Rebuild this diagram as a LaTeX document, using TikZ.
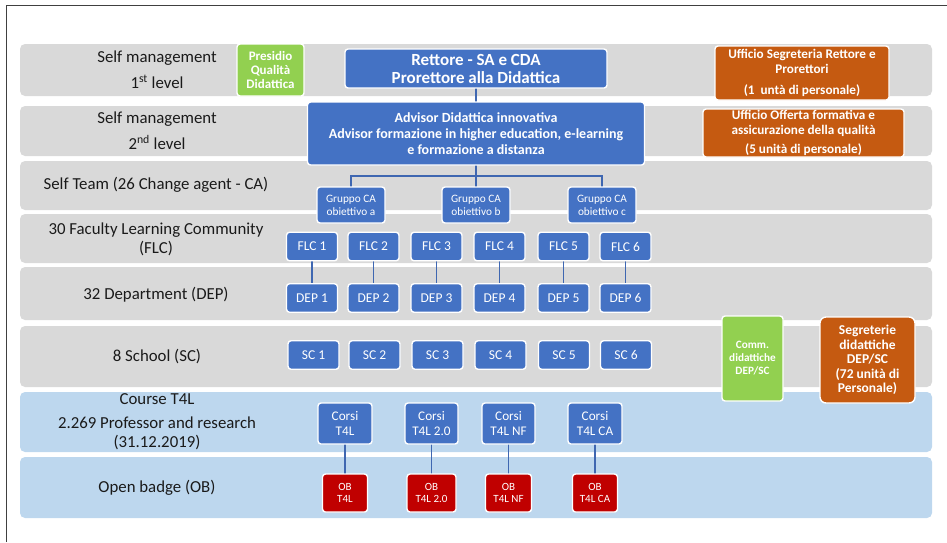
\documentclass[tikz,border=0pt]{standalone}
\usepackage{fontspec}
\setmainfont{Carlito}
\definecolor{bandgray}{HTML}{D9D9D9}
\definecolor{bandblue}{HTML}{BDD7EE}
\definecolor{boxblue}{HTML}{4472C4}
\definecolor{boxorange}{HTML}{C55A11}
\definecolor{boxgreen}{HTML}{92D050}
\definecolor{boxred}{HTML}{C00000}
\definecolor{linkblue}{HTML}{3F67B1}
\definecolor{labeltext}{HTML}{1A1A1A}
\definecolor{framegray}{HTML}{404040}
\pgfdeclarelayer{bandlayer}
\pgfdeclarelayer{linklayer}
\pgfsetlayers{bandlayer,linklayer,main}
\begin{document}
\begin{tikzpicture}[x=1pt,y=-1pt,
  band/.style={fill=#1, rounded corners=5pt, draw=none, anchor=north west,
    minimum width=912pt, inner sep=0pt, outer sep=0pt},
  lbl/.style={align=center, text=labeltext, font=\fontsize{16.8}{20}\selectfont, inner sep=0pt},
  box/.style={fill=#1, draw=white, line width=1.4pt, rounded corners=3pt, text=white,
    align=center, inner sep=0pt, outer sep=0pt},
  rettbox/.style={box=boxblue, font=\bfseries\fontsize{17}{18}\selectfont},
  advbox/.style={box=boxblue, font=\bfseries\fontsize{14}{16}\selectfont},
  grpbox/.style={box=boxblue, minimum width=68pt, minimum height=36pt, font=\fontsize{11.3}{13}\selectfont},
  unitbox/.style={box=boxblue, minimum width=51pt, minimum height=28.5pt, font=\fontsize{13.5}{15}\selectfont},
  corsibox/.style={box=boxblue, minimum height=41pt, font=\fontsize{13.2}{15}\selectfont},
  obbox/.style={box=boxred, minimum height=38pt, font=\fontsize{11}{12}\selectfont},
  greenbox/.style={box=boxgreen, font=\bfseries\fontsize{13}{14}\selectfont},
  orangebox/.style={box=boxorange, font=\bfseries\fontsize{13.2}{15}\selectfont},
  link/.style={draw=linkblue, line width=1.6pt},
]
\useasboundingbox (0,0) rectangle (947,542);
\draw[framegray, line width=1pt] (6,542) -- (6,5) -- (947,5);

% bands
\begin{pgfonlayer}{bandlayer}
\node[band=bandgray, minimum height=52pt] (b1) at (20,44) {};
\node[band=bandgray, minimum height=50pt] (b2) at (20,106) {};
\node[band=bandgray, minimum height=49pt] (b3) at (20,161) {};
\node[band=bandgray, minimum height=49pt] (b4) at (20,214) {};
\node[band=bandgray, minimum height=53pt] (b5) at (20,267) {};
\node[band=bandgray, minimum height=61pt] (b6) at (20,326) {};
\node[band=bandblue, minimum height=60pt] (b7) at (20,392) {};
\node[band=bandblue, minimum height=61pt] (b8) at (20,457) {};
\end{pgfonlayer}

% band labels
\node[lbl] (l1) at (157,70) {Self management\\[6pt]1\textsuperscript{st} level};
\node[lbl] (l2) at (157,131) {Self management\\[6pt]2\textsuperscript{nd} level};
\node[lbl] (l3) at (156,185) {Self Team (26 Change agent - CA)};
\node[lbl, font=\fontsize{16.8}{19}\selectfont] (l4) at (156,239) {30 Faculty Learning Community\\(FLC)};
\node[lbl] (l5) at (156,295) {32 Department (DEP)};
\node[lbl] (l6) at (157,357) {8 School (SC)};
\node[lbl, font=\fontsize{16.8}{19}\selectfont] (l7) at (157,422) {Course T4L\\[5pt]2.269 Professor and research\\(31.12.2019)};
\node[lbl] (l8) at (157,488) {Open badge (OB)};

% top level
\node[greenbox, minimum width=67pt, minimum height=52pt] (pqd) at (270.5,70) {Presidio\\Qualità\\Didattica};
\node[rettbox, minimum width=262pt, minimum height=39pt] (rett) at (476,68.5) {Rettore - SA e CDA\\Prorettore alla Didattica};
\node[advbox, minimum width=337pt, minimum height=63pt] (adv) at (476,133.5) {Advisor Didattica innovativa\\Advisor formazione in higher education, e-learning\\e formazione a distanza};
\node[orangebox, minimum width=174pt, minimum height=54pt] (useg) at (802,73) {Ufficio Segreteria Rettore e\\Prorettori\\[6pt](1~ untà di personale)};
\node[orangebox, minimum width=201pt, minimum height=48pt] (uoff) at (803.5,133) {Ufficio Offerta formativa e\\assicurazione della qualità\\[4pt](5 unità di personale)};

% gruppi
\node[grpbox] (ga) at (351,205) {Gruppo CA\\obiettivo a};
\node[grpbox] (gb) at (476,205) {Gruppo CA\\obiettivo b};
\node[grpbox] (gc) at (602,205) {Gruppo CA\\obiettivo c};
\coordinate (hub) at (476,176);

% FLC
\node[unitbox] (f1) at (312,246.5) {FLC 1};
\node[unitbox] (f2) at (373.5,246.5) {FLC 2};
\node[unitbox] (f3) at (436.5,246.5) {FLC 3};
\node[unitbox] (f4) at (499.5,246.5) {FLC 4};
\node[unitbox] (f5) at (563.5,246.5) {FLC 5};
\node[unitbox] (f6) at (625.5,246.5) {FLC 6};

% DEP
\node[unitbox] (d1) at (312,298) {DEP 1};
\node[unitbox] (d2) at (373.5,298) {DEP 2};
\node[unitbox] (d3) at (436.5,298) {DEP 3};
\node[unitbox] (d4) at (499.5,298) {DEP 4};
\node[unitbox] (d5) at (563.5,298) {DEP 5};
\node[unitbox] (d6) at (625.5,298) {DEP 6};

% SC
\node[unitbox] (s1) at (313.5,355) {SC 1};
\node[unitbox] (s2) at (374.5,355) {SC 2};
\node[unitbox] (s3) at (437.5,355) {SC 3};
\node[unitbox] (s4) at (500.5,355) {SC 4};
\node[unitbox] (s5) at (564,355) {SC 5};
\node[unitbox] (s6) at (626,355) {SC 6};

% side boxes lower
\node[box=boxgreen, minimum width=61pt, minimum height=85pt, font=\bfseries\fontsize{11.2}{13}\selectfont] (comm) at (752.5,358.5) {Comm.\\didattiche\\DEP/SC};
\node[box=boxorange, rounded corners=6pt, minimum width=95pt, minimum height=86pt, font=\bfseries\fontsize{13.5}{14.5}\selectfont] (sdid) at (867.5,360) {Segreterie\\didattiche\\DEP/SC\\(72 unità di\\Personale)};

% Corsi
\node[corsibox, minimum width=54pt] (c1) at (345,423.5) {Corsi\\T4L};
\node[corsibox, minimum width=53pt] (c2) at (431.5,423.5) {Corsi\\T4L 2.0};
\node[corsibox, minimum width=53pt] (c3) at (508.5,423.5) {Corsi\\T4L NF};
\node[corsibox, minimum width=54pt] (c4) at (595,423.5) {Corsi\\T4L CA};

% OB
\node[obbox, minimum width=45pt] (o1) at (345,493) {OB\\T4L};
\node[obbox, minimum width=49pt] (o2) at (431.5,493) {OB\\T4L 2.0};
\node[obbox, minimum width=46pt] (o3) at (508.5,493) {OB\\T4L NF};
\node[obbox, minimum width=45pt] (o4) at (595,493) {OB\\T4L CA};

% connectors
\begin{pgfonlayer}{linklayer}
\draw[link] (rett) -- (adv);
\draw[link] (adv) -- (hub);
\draw[link] (ga) |- (hub) -| (gc);
\draw[link] (hub) -- (gb);
\foreach \i in {1,...,6} {\draw[link] (f\i) -- (d\i);}
\foreach \i in {1,...,4} {\draw[link] (c\i) -- (o\i);}
\end{pgfonlayer}
\end{tikzpicture}
\end{document}
